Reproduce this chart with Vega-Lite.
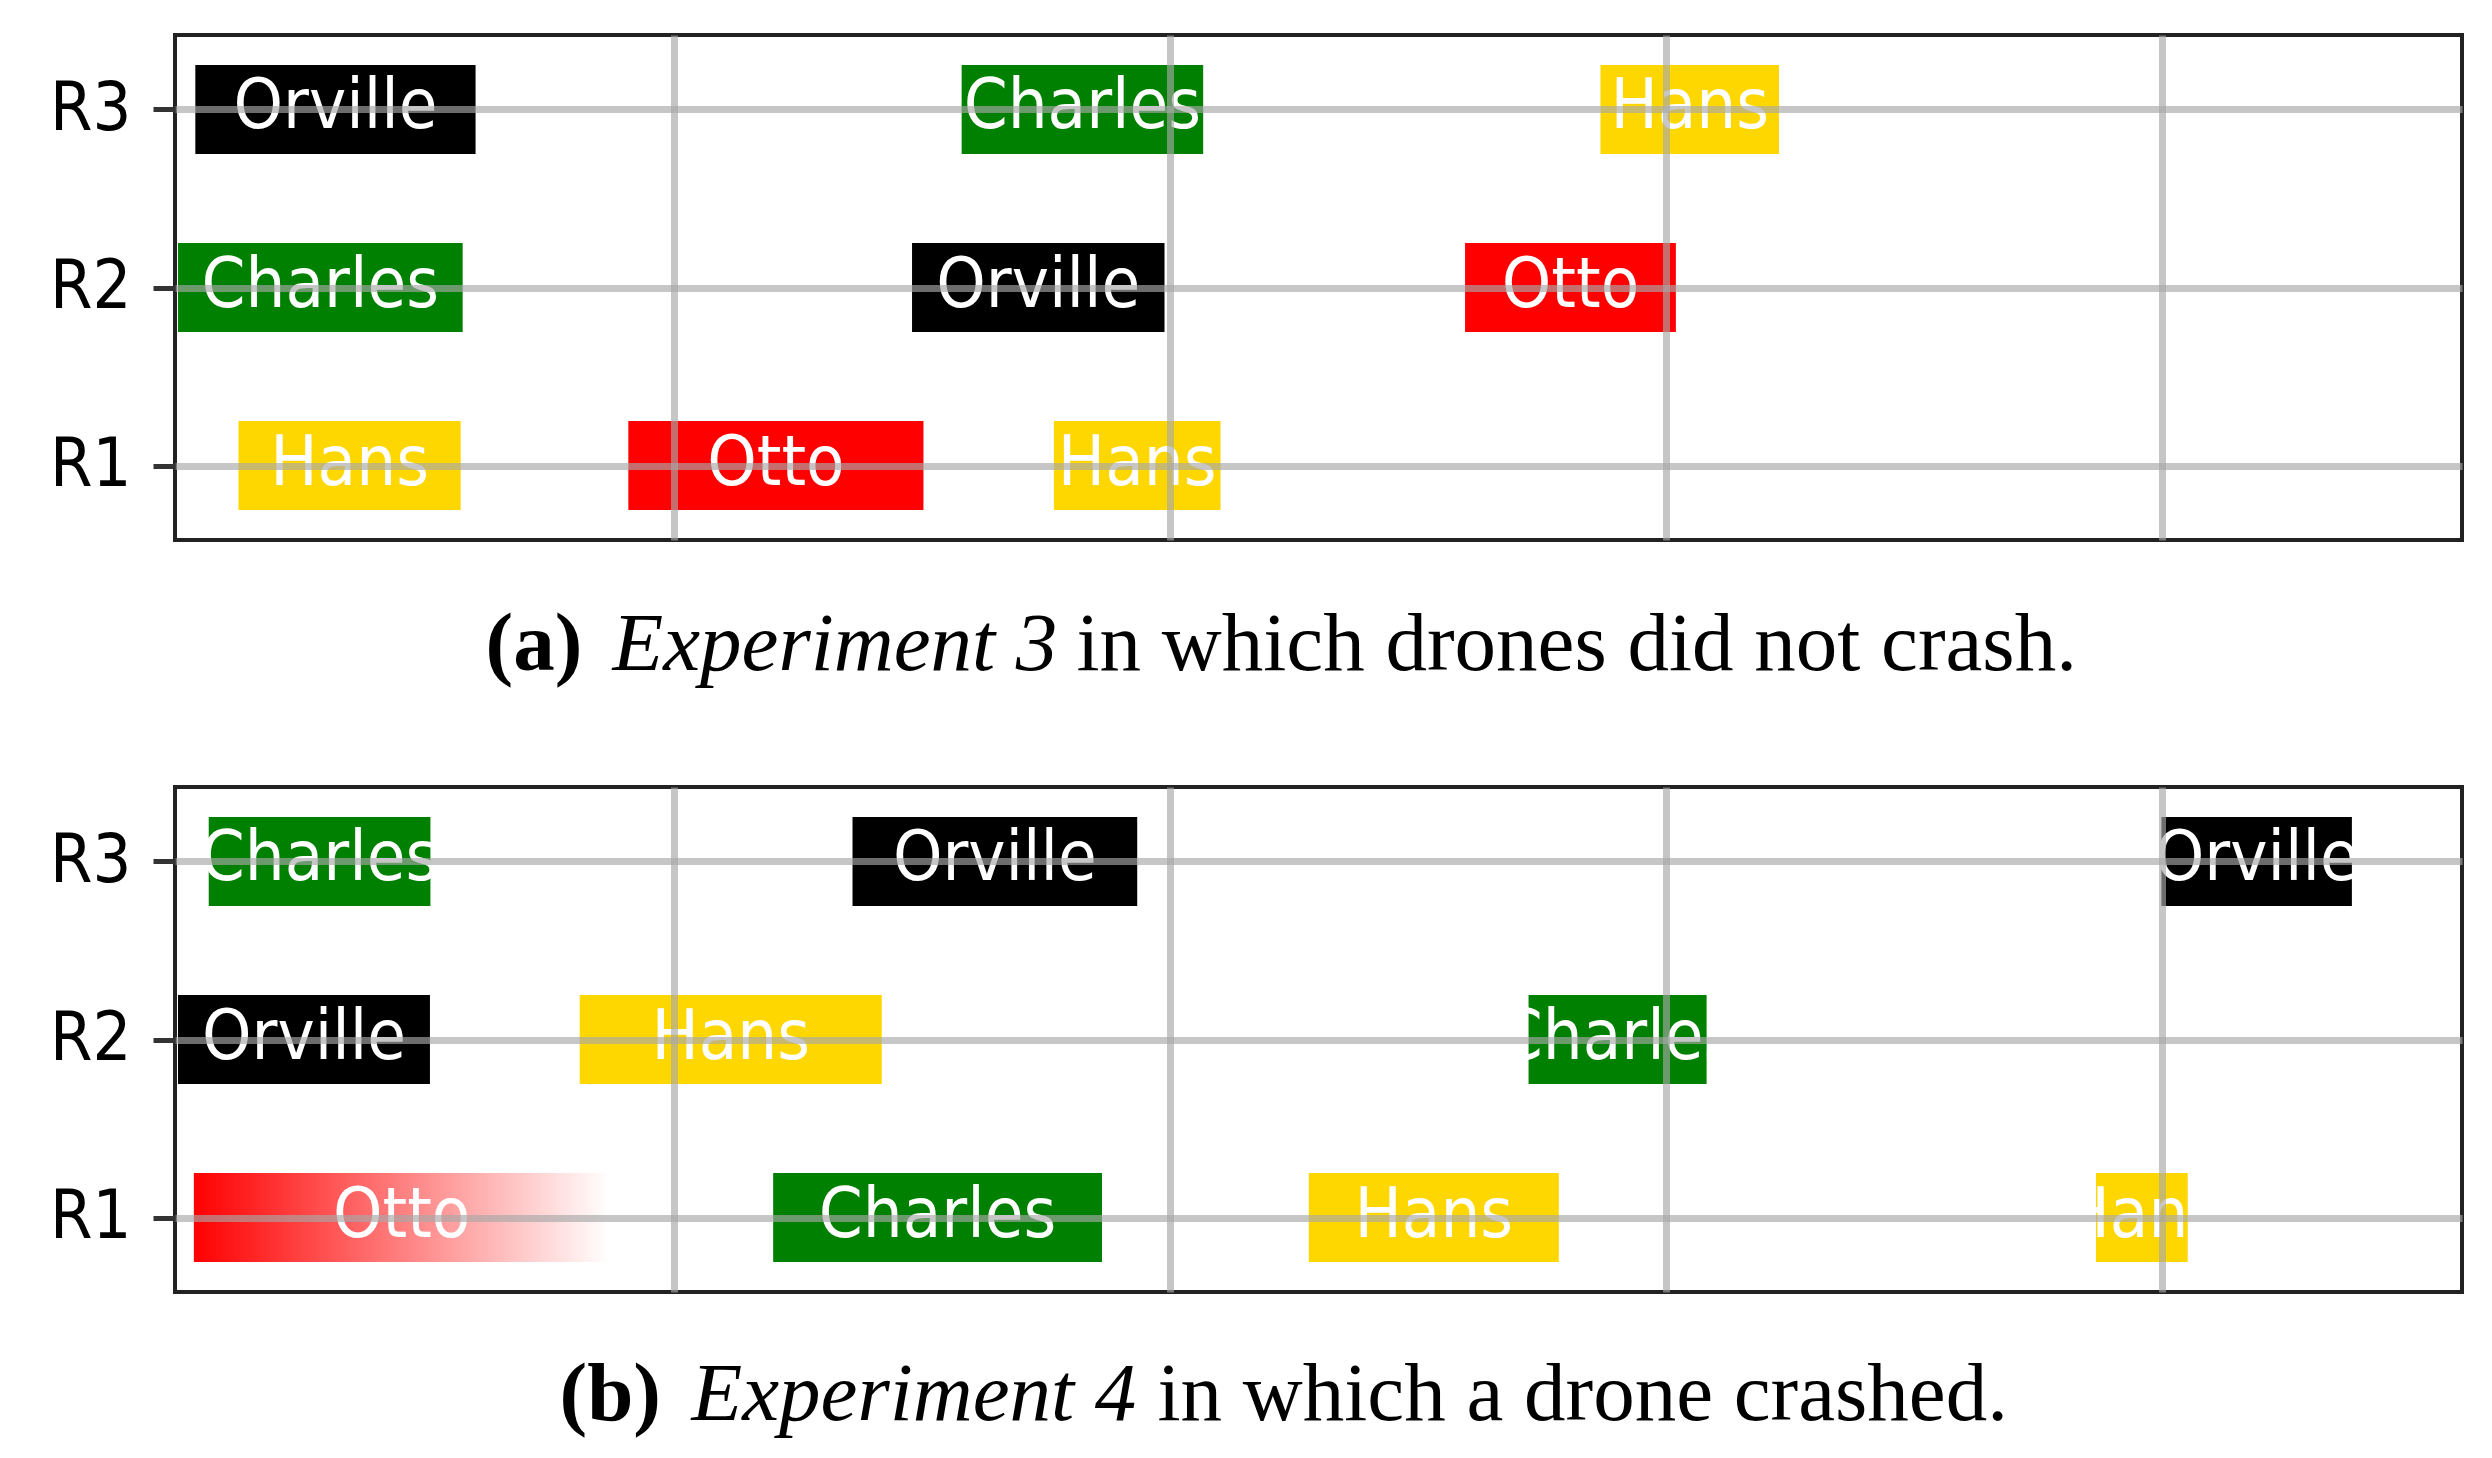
{
  "$schema": "https://vega.github.io/schema/vega-lite/v6.json",
  "autosize": {"type": "none"},
  "padding": {"left": 175, "top": 35, "right": 2317, "bottom": 1423},
  "background": "white",
  "datasets": {
    "exp": [
      {"panel": "a", "id": "a1", "name": "Orville", "r": 3, "start": 35, "end": 600},
      {"panel": "a", "id": "a2", "name": "Charles", "r": 3, "start": 1580, "end": 2067},
      {"panel": "a", "id": "a3", "name": "Hans", "r": 3, "start": 2868, "end": 3228},
      {"panel": "a", "id": "a4", "name": "Charles", "r": 2, "start": 0, "end": 574},
      {"panel": "a", "id": "a5", "name": "Orville", "r": 2, "start": 1480, "end": 1989},
      {"panel": "a", "id": "a6", "name": "Otto", "r": 2, "start": 2595, "end": 3020},
      {"panel": "a", "id": "a7", "name": "Hans", "r": 1, "start": 122, "end": 570},
      {"panel": "a", "id": "a8", "name": "Otto", "r": 1, "start": 908, "end": 1503},
      {"panel": "a", "id": "a9", "name": "Hans", "r": 1, "start": 1766, "end": 2102},
      {"panel": "b", "id": "b1", "name": "Charles", "r": 3, "start": 62, "end": 509},
      {"panel": "b", "id": "b2", "name": "Orville", "r": 3, "start": 1360, "end": 1934},
      {"panel": "b", "id": "b3", "name": "Orville", "r": 3, "start": 3999, "end": 4383},
      {"panel": "b", "id": "b4", "name": "Orville", "r": 2, "start": 0, "end": 508},
      {"panel": "b", "id": "b5", "name": "Hans", "r": 2, "start": 810, "end": 1419},
      {"panel": "b", "id": "b6", "name": "Charles", "r": 2, "start": 2723, "end": 3082},
      {"panel": "b", "id": "b7", "name": "Otto", "r": 1, "start": 32, "end": 870, "crashed": true},
      {"panel": "b", "id": "b8", "name": "Charles", "r": 1, "start": 1200, "end": 1863},
      {"panel": "b", "id": "b9", "name": "Hans", "r": 1, "start": 2280, "end": 2784},
      {"panel": "b", "id": "b10", "name": "Hans", "r": 1, "start": 3867, "end": 4052}
    ]
  },
  "config": {
    "view": {"stroke": "#222222", "strokeWidth": 4},
    "font": "DejaVu Sans"
  },
  "vconcat": [
    {
      "width": 2287,
      "height": 505,
      "data": {"name": "exp"},
      "transform": [{"filter": "datum.panel == 'a'"}],
      "layer": [
        {
          "transform": [{"filter": "!datum.crashed"}],
          "mark": {"type": "bar", "orient": "horizontal", "size": 89},
          "encoding": {
            "x": {"field": "start", "type": "quantitative",
              "scale": {"domain": [-6, 4605], "nice": false, "zero": false},
              "axis": {"orient": "bottom", "values": [1000, 2000, 3000, 4000], "grid": true, "gridColor": "#a8a8a8", "gridOpacity": 0.65, "gridWidth": 7, "labels": false, "ticks": false, "domain": false, "zindex": 1,
                "title": "in which drones did not crash.", "titleFont": "Liberation Serif", "titleFontSize": 83, "titleFontWeight": "normal", "titleColor": "black", "titleX": 901, "titleY": 129, "titleAlign": "left", "titleBaseline": "alphabetic"}},
            "x2": {"field": "end"},
            "y": {"field": "r", "type": "quantitative",
              "scale": {"domain": [0.61, 3.39], "nice": false, "zero": false},
              "axis": {"values": [1, 2, 3], "labelExpr": "'R' + datum.value", "labelFont": "DejaVu Sans Condensed, DejaVu Sans", "labelFontSize": 68, "labelColor": "black", "labelPadding": 22, "tickSize": 22, "tickWidth": 5, "tickColor": "#333333", "grid": true, "gridColor": "#a8a8a8", "gridOpacity": 0.65, "gridWidth": 7, "domain": false, "zindex": 1,
                "title": "(a)", "titleAngle": 0, "titleFont": "Liberation Serif", "titleFontSize": 83, "titleFontWeight": "bold", "titleColor": "black", "titleX": 310, "titleY": 634, "titleAlign": "left", "titleBaseline": "alphabetic"}},
            "color": {"field": "name", "type": "nominal",
              "scale": {"domain": ["Orville", "Charles", "Hans", "Otto"], "range": ["#000000", "#008000", "#ffd700", "#ff0000"]},
              "legend": null}
          }
        },
        {
          "transform": [{"filter": "datum.crashed"}],
          "mark": {"type": "bar", "orient": "horizontal", "size": 89,
            "color": {"gradient": "linear", "x1": 0, "y1": 0, "x2": 1, "y2": 0, "stops": [{"offset": 0, "color": "#ff0000"}, {"offset": 1, "color": "rgba(255,0,0,0)"}]}},
          "encoding": {
            "x": {"field": "start", "type": "quantitative", "axis": null},
            "x2": {"field": "end"},
            "y": {"field": "r", "type": "quantitative"}
          }
        },
        {
          "transform": [{"fold": ["start", "end"], "as": ["k", "v"]}],
          "mark": {"type": "text", "font": "DejaVu Sans Condensed, DejaVu Sans", "fontSize": 70, "color": "white", "align": "center", "baseline": "middle", "dy": -2},
          "encoding": {
            "x": {"aggregate": "mean", "field": "v", "type": "quantitative",
              "axis": {"orient": "bottom", "grid": false, "labels": false, "ticks": false, "domain": false,
                "title": "Experiment 3", "titleFont": "Liberation Serif", "titleFontSize": 83, "titleFontWeight": "normal", "titleFontStyle": "italic", "titleColor": "black", "titleX": 437, "titleY": 129, "titleAlign": "left", "titleBaseline": "alphabetic"}},
            "y": {"field": "r", "type": "quantitative"},
            "text": {"field": "name"},
            "detail": {"field": "id"}
          }
        }
      ],
      "resolve": {"axis": {"x": "independent"}}
    },
    {
      "width": 2287,
      "height": 505,
      "data": {"name": "exp"},
      "transform": [{"filter": "datum.panel == 'b'"}],
      "layer": [
        {
          "transform": [{"filter": "!datum.crashed"}],
          "mark": {"type": "bar", "orient": "horizontal", "size": 89},
          "encoding": {
            "x": {"field": "start", "type": "quantitative",
              "scale": {"domain": [-6, 4605], "nice": false, "zero": false},
              "axis": {"orient": "bottom", "values": [1000, 2000, 3000, 4000], "grid": true, "gridColor": "#a8a8a8", "gridOpacity": 0.65, "gridWidth": 7, "labels": false, "ticks": false, "domain": false, "zindex": 1,
                "title": "in which a drone crashed.", "titleFont": "Liberation Serif", "titleFontSize": 83, "titleFontWeight": "normal", "titleColor": "black", "titleX": 982, "titleY": 127, "titleAlign": "left", "titleBaseline": "alphabetic"}},
            "x2": {"field": "end"},
            "y": {"field": "r", "type": "quantitative",
              "scale": {"domain": [0.61, 3.39], "nice": false, "zero": false},
              "axis": {"values": [1, 2, 3], "labelExpr": "'R' + datum.value", "labelFont": "DejaVu Sans Condensed, DejaVu Sans", "labelFontSize": 68, "labelColor": "black", "labelPadding": 22, "tickSize": 22, "tickWidth": 5, "tickColor": "#333333", "grid": true, "gridColor": "#a8a8a8", "gridOpacity": 0.65, "gridWidth": 7, "domain": false, "zindex": 1,
                "title": "(b)", "titleAngle": 0, "titleFont": "Liberation Serif", "titleFontSize": 83, "titleFontWeight": "bold", "titleColor": "black", "titleX": 384, "titleY": 632, "titleAlign": "left", "titleBaseline": "alphabetic"}},
            "color": {"field": "name", "type": "nominal",
              "scale": {"domain": ["Orville", "Charles", "Hans", "Otto"], "range": ["#000000", "#008000", "#ffd700", "#ff0000"]},
              "legend": null}
          }
        },
        {
          "transform": [{"filter": "datum.crashed"}],
          "mark": {"type": "bar", "orient": "horizontal", "size": 89,
            "color": {"gradient": "linear", "x1": 0, "y1": 0, "x2": 1, "y2": 0, "stops": [{"offset": 0, "color": "#ff0000"}, {"offset": 1, "color": "rgba(255,0,0,0)"}]}},
          "encoding": {
            "x": {"field": "start", "type": "quantitative", "axis": null},
            "x2": {"field": "end"},
            "y": {"field": "r", "type": "quantitative"}
          }
        },
        {
          "transform": [{"fold": ["start", "end"], "as": ["k", "v"]}],
          "mark": {"type": "text", "font": "DejaVu Sans Condensed, DejaVu Sans", "fontSize": 70, "color": "white", "align": "center", "baseline": "middle", "dy": -2},
          "encoding": {
            "x": {"aggregate": "mean", "field": "v", "type": "quantitative",
              "axis": {"orient": "bottom", "grid": false, "labels": false, "ticks": false, "domain": false,
                "title": "Experiment 4", "titleFont": "Liberation Serif", "titleFontSize": 83, "titleFontWeight": "normal", "titleFontStyle": "italic", "titleColor": "black", "titleX": 516, "titleY": 127, "titleAlign": "left", "titleBaseline": "alphabetic"}},
            "y": {"field": "r", "type": "quantitative"},
            "text": {"field": "name"},
            "detail": {"field": "id"}
          }
        }
      ],
      "resolve": {"axis": {"x": "independent"}}
    }
  ],
  "spacing": 247,
  "bounds": "flush"
}
